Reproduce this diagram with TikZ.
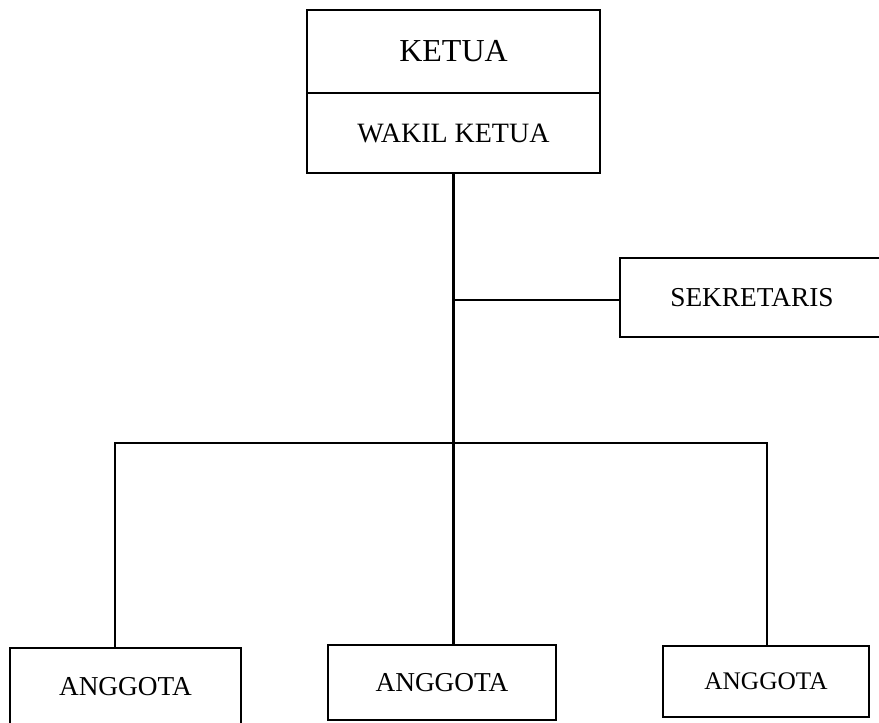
\documentclass[tikz,border=0pt]{standalone}
\usepackage{fontspec}
\setmainfont{Liberation Serif}
\usetikzlibrary{positioning, calc}

\begin{document}
\begin{tikzpicture}[
                x=0.75pt,
                y=-0.75pt,
                line width=2.2pt,
                jabatan/.style={draw, rectangle, fill=white, inner sep=0pt, align=center},
                garis/.style={draw, line cap=rect},
            ]
                \useasboundingbox (0,0) rectangle (879,722);

                % Draw the top boxes
                \node[jabatan, minimum width=293*0.75pt, minimum height=83*0.75pt, font=\fontsize{24}{26}\selectfont] (ketua) at (453.5,51.5) {KETUA};
                \node[jabatan, minimum width=293*0.75pt, minimum height=80*0.75pt, font=\fontsize{21}{24}\selectfont] (wakil) at (453.5,133) {WAKIL KETUA};

                % Draw the secretary box
                \node[jabatan, minimum width=264*0.75pt, minimum height=79*0.75pt, font=\fontsize{20.5}{24}\selectfont] (sekretaris) at (752,297.5) {SEKRETARIS};

                % Draw the member boxes
                \foreach \name / \x / \y / \w / \h / \s in {1/125.5/687/231/78/20.5, 2/442/682.5/228/75/20.5, 3/766/681.5/206/71/19}
                    \node[jabatan, minimum width=\w*0.75pt, minimum height=\h*0.75pt, font=\fontsize{\s}{24}\selectfont] (anggota-\name) at (\x,\y) {ANGGOTA};

                % Connect the boxes
                \coordinate (sek) at (454,300);
                \coordinate (bar-kiri) at (115,443);
                \coordinate (bar-kanan) at (767,443);
                \path[garis] (wakil.south) -- (wakil.south |- anggota-2.north);
                \path[garis] (sek) -- (sek -| sekretaris.west);
                \path[garis] (bar-kiri) -- (bar-kanan);
                \path[garis] (bar-kiri) -- (bar-kiri |- anggota-1.north);
                \path[garis] (bar-kanan) -- (bar-kanan |- anggota-3.north);
            \end{tikzpicture}
\end{document}
